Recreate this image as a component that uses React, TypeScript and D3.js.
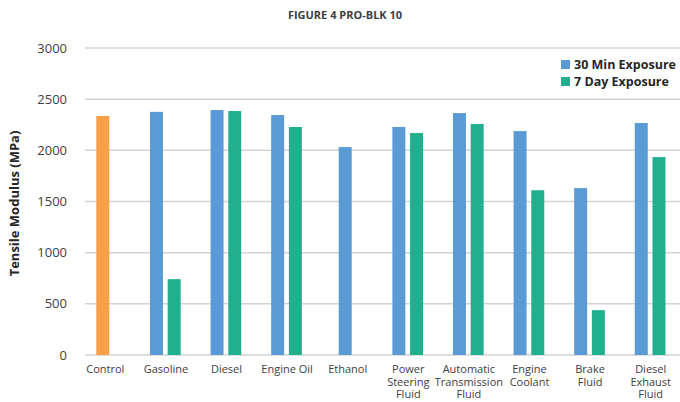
import { FC, useEffect, useRef } from "react";
import * as d3 from "d3";

const categories = ["Control", "Gasoline", "Diesel", "Engine Oil", "Ethanol", "Power Steering Fluid", "Automatic Transmission Fluid", "Engine Coolant", "Brake Fluid", "Diesel Exhaust Fluid"];
const categoryLines = [["Control"], ["Gasoline"], ["Diesel"], ["Engine Oil"], ["Ethanol"], ["Power", "Steering", "Fluid"], ["Automatic", "Transmission", "Fluid"], ["Engine", "Coolant"], ["Brake", "Fluid"], ["Diesel", "Exhaust", "Fluid"]];
const controlValues: (number | null)[] = [2335, null, null, null, null, null, null, null, null, null];
const min30Values: (number | null)[] = [null, 2376, 2394, 2345, 2032, 2228, 2364, 2188, 1631, 2267];
const day7Values: (number | null)[] = [null, 741, 2384, 2228, null, 2169, 2257, 1610, 438, 1934];
const seriesNames = ["Control", "30 Min Exposure", "7 Day Exposure"];
const seriesColors = ["#F8A048", "#5B9BD5", "#21B08E"];
const yTicks = [0, 500, 1000, 1500, 2000, 2500, 3000];

const W = 680, H = 402;
const plot = { left: 85, right: 680, top: 48, bottom: 355 };
const font = "'Open Sans', 'Noto Sans', sans-serif";

const Chart: FC = () => {
  const ref = useRef<SVGSVGElement>(null);

  useEffect(() => {
    const svg = d3.select(ref.current);
    svg.selectAll("*").remove();

    const x = d3.scaleBand<string>().domain(categories).range([75, 681]);
    const y = d3.scaleLinear().domain([0, 3000]).range([plot.bottom, plot.top]);
    const barW = 13;
    const inner = d3.scaleBand<string>().domain(["30", "7"]).range([-17, 17]).paddingInner(0.2).paddingOuter(0.06);

    // gridlines
    svg.append("g").selectAll("line").data(yTicks).join("line")
      .attr("x1", plot.left).attr("x2", plot.right)
      .attr("y1", d => y(d)).attr("y2", d => y(d))
      .attr("stroke", "#d4d4d4").attr("stroke-width", 1.5);

    // y tick labels
    svg.append("g").selectAll("text").data(yTicks).join("text")
      .attr("x", 67).attr("y", d => y(d)).attr("dy", "0.35em")
      .attr("text-anchor", "end").attr("font-size", 13).attr("fill", "#404040")
      .attr("font-family", font).text(d => d);

    const rows = categories.map((c, i) => ({ c, ctrl: controlValues[i], a: min30Values[i], b: day7Values[i] }));
    const bars = svg.append("g");
    rows.forEach(r => {
      const cx = (x(r.c) as number) + x.bandwidth() / 2;
      const singles: { v: number; color: string }[] = [];
      if (r.ctrl != null) singles.push({ v: r.ctrl, color: seriesColors[0] });
      if (r.a != null && r.b != null) {
        bars.append("rect").attr("x", cx + (inner("30") as number)).attr("width", barW)
          .attr("y", y(r.a)).attr("height", y(0) - y(r.a)).attr("fill", seriesColors[1]);
        bars.append("rect").attr("x", cx + (inner("7") as number)).attr("width", barW)
          .attr("y", y(r.b)).attr("height", y(0) - y(r.b)).attr("fill", seriesColors[2]);
      } else if (r.a != null) {
        singles.push({ v: r.a, color: seriesColors[1] });
      }
      singles.forEach(s => {
        bars.append("rect").attr("x", cx - barW / 2 - 2.5).attr("width", barW)
          .attr("y", y(s.v)).attr("height", y(0) - y(s.v)).attr("fill", s.color);
      });
    });

    // x labels
    const xl = svg.append("g").attr("font-family", font).attr("font-size", 11).attr("fill", "#404040").attr("text-anchor", "middle");
    categories.forEach((c, i) => {
      const cx = (x(c) as number) + x.bandwidth() / 2;
      categoryLines[i].forEach((ln, j) => {
        xl.append("text").attr("x", cx).attr("y", 373 + j * 12.5).text(ln);
      });
    });

    // title
    svg.append("text").attr("x", 345).attr("y", 19).attr("text-anchor", "middle")
      .attr("font-family", font).attr("font-weight", "bold").attr("font-size", 11)
      .attr("fill", "#404040").text("FIGURE 4 PRO-BLK 10");

    // y axis title
    svg.append("text").attr("transform", `translate(19,${(plot.top + plot.bottom) / 2 + 2}) rotate(-90)`)
      .attr("text-anchor", "middle").attr("font-family", font).attr("font-weight", "bold")
      .attr("font-size", 13).attr("fill", "#262626").text("Tensile Modulus (MPa)");

    // legend
    const lg = svg.append("g").attr("font-family", font).attr("font-weight", "bold").attr("font-size", 12.5).attr("fill", "#262626");
    seriesNames.slice(1).forEach((n, i) => {
      const yy = 65 + i * 17;
      lg.append("rect").attr("x", 561).attr("y", yy - 5).attr("width", 9).attr("height", 9).attr("fill", seriesColors[i + 1]);
      lg.append("text").attr("x", 574).attr("y", yy).attr("dy", "0.35em").text(n);
    });
  }, []);

  return <svg ref={ref} width={W} height={H} style={{ display: "block", background: "#fff" }} />;
};

export default function App() {
  return (
    <div style={{ position: "fixed", left: 0, top: 0, width: W, height: H, background: "#fff" }}>
      <Chart />
    </div>
  );
}
